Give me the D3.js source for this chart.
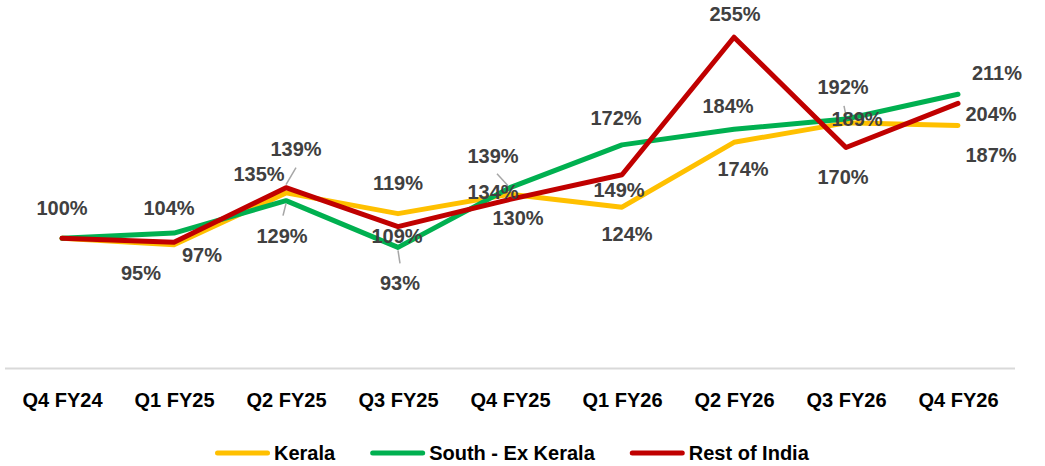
<!DOCTYPE html>
<html>
<head>
  <meta charset="utf-8">
  <title>Growth by region</title>
  <script src="https://d3js.org/d3.v7.min.js"></script>
  <style>
    body { margin: 0; background: #fff; }
    text { font-family: "Liberation Sans", Arial, sans-serif; font-weight: bold; }
  </style>
</head>
<body>
  <div id="chart"></div>

  <script>
    // data
    var quarters = ["Q4 FY24", "Q1 FY25", "Q2 FY25", "Q3 FY25", "Q4 FY25", "Q1 FY26", "Q2 FY26", "Q3 FY26", "Q4 FY26"];
    var kerala      = [100, 95, 135, 119, 134, 124, 174, 189, 187];
    var southExKer  = [100, 104, 129, 93, 139, 172, 184, 192, 211];
    var restOfIndia = [100, 97, 139, 109, 130, 149, 255, 170, 204];

    // label offsets from each point (centre x, baseline y); null = no label
    var keralaLbl = [[0, -23], [-33, 35], [-27, -12], [0, -24], [-17, 5], [5, 34], [9, 34], [11, 3], [33, 37]];
    var southLbl  = [null, [-5, -18], [-4, 42], [2, 43], [-17, -25], [-6, -20], [-6, -16], [-3, -25], [39, -14]];
    var restLbl   = [null, [28, 20], [10, -32], [-1, 16], [8, 26], [-3, 22], [1, -16], [-3, 37], [33, 18]];

    // leader lines: [series, index, start dx, start dy, end dx, end dy]
    var leaders = [
      [2, 2, 0, -3, 10, -20],
      [1, 2, 0, 3, -3, 15],
      [1, 3, 0, 3, 2, 16],
      [1, 4, -2, -2, -13, -14],
      [1, 7, 0, -3, -2, -13]
    ];

    var series = [
      { name: "Kerala", values: kerala, labels: keralaLbl, color: "#FFC000" },
      { name: "South - Ex Kerala", values: southExKer, labels: southLbl, color: "#00B050" },
      { name: "Rest of India", values: restOfIndia, labels: restLbl, color: "#C00000" }
    ];

    var width = 1045, height = 466;

    var svg = d3.select("#chart")
                .append("svg")
                .attr("width", width)
                .attr("height", height);

    var x = d3.scalePoint()
              .domain(quarters)
              .range([6, 1014])
              .padding(0.5);

    var y = d3.scaleLinear()
              .domain([0, 280])
              .range([368, 4.8]);

    // x axis
    var xAxis = svg.append("g")
       .attr("transform", "translate(0,368.5)")
       .call(d3.axisBottom(x).tickSize(0).tickPadding(22));
    xAxis.select(".domain").attr("stroke", "#d9d9d9").attr("stroke-width", 2)
         .attr("d", "M5,0H1015");
    xAxis.selectAll("text")
         .attr("fill", "#000")
         .attr("font-size", "20px")
         .attr("dy", 0)
         .attr("y", 38);

    // lines
    var line = d3.line()
                 .x((d, i) => x(quarters[i]))
                 .y(d => y(d));

    svg.selectAll(".series")
       .data(series)
       .enter().append("path")
       .attr("class", "series")
       .attr("d", d => line(d.values))
       .attr("fill", "none")
       .attr("stroke", d => d.color)
       .attr("stroke-width", 5)
       .attr("stroke-linejoin", "round")
       .attr("stroke-linecap", "round");

    // leader lines
    svg.selectAll(".leader")
       .data(leaders)
       .enter().append("line")
       .attr("class", "leader")
       .attr("x1", d => x(quarters[d[1]]) + d[2])
       .attr("y1", d => y(series[d[0]].values[d[1]]) + d[3])
       .attr("x2", d => x(quarters[d[1]]) + d[4])
       .attr("y2", d => y(series[d[0]].values[d[1]]) + d[5])
       .attr("stroke", "#a6a6a6")
       .attr("stroke-width", 1.5);

    // data labels
    series.forEach(function(s) {
      var pts = s.values.map((v, i) => ({ v: v, i: i, off: s.labels[i] })).filter(p => p.off);
      svg.selectAll(null)
         .data(pts)
         .enter().append("text")
         .attr("x", p => x(quarters[p.i]) + p.off[0])
         .attr("y", p => y(p.v) + p.off[1])
         .attr("text-anchor", "middle")
         .attr("font-size", "20px")
         .attr("fill", "#404040")
         .text(p => p.v + "%");
    });

    // legend
    var legend = svg.append("g").attr("transform", "translate(0,453)");
    var lx = 215;
    series.forEach(function(s) {
      legend.append("line")
            .attr("x1", lx + 2.5).attr("x2", lx + 52.5)
            .attr("y1", 0).attr("y2", 0)
            .attr("stroke", s.color)
            .attr("stroke-width", 5)
            .attr("stroke-linecap", "round");
      var t = legend.append("text")
            .attr("x", lx + 59)
            .attr("y", 7)
            .attr("font-size", "20px")
            .attr("fill", "#000")
            .text(s.name);
      lx += 59 + t.node().getComputedTextLength() + 35;
    });
  </script>
</body>
</html>
